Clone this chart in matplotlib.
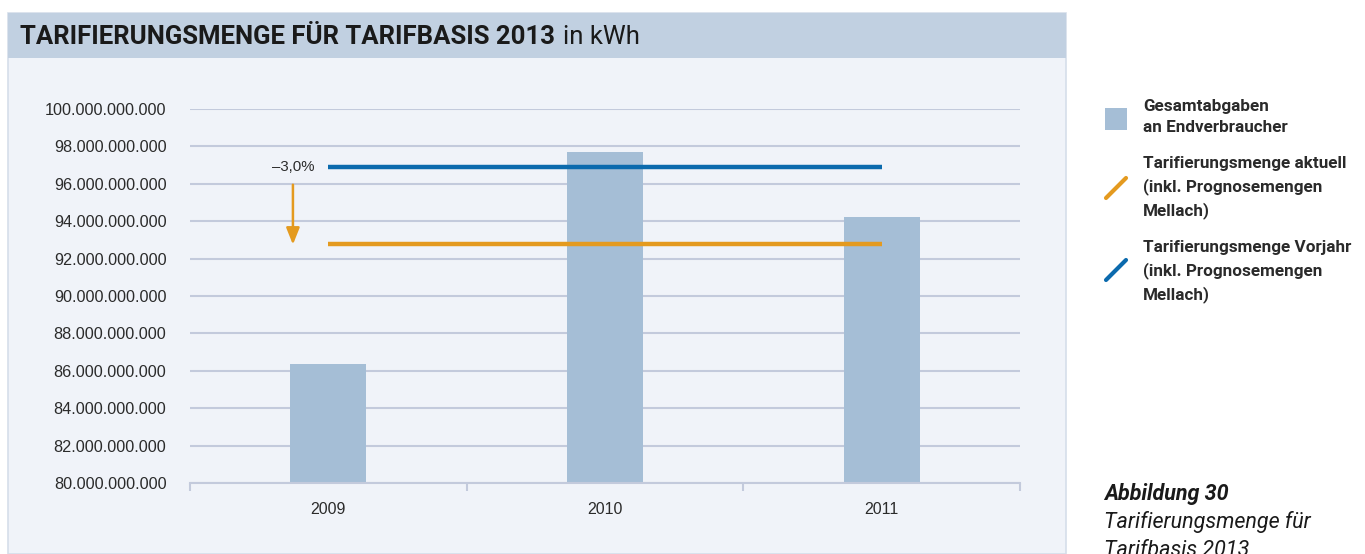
import numpy as np
import matplotlib.pyplot as plt
from matplotlib.patches import Rectangle
from matplotlib.lines import Line2D
from matplotlib.ticker import FuncFormatter

# ---------------- Daten ----------------
jahre = ['2009', '2010', '2011']
gesamtabgaben = [86.36e9, 97.70e9, 94.20e9]   # kWh
menge_vorjahr = 96.90e9                       # blaue Linie
menge_aktuell = 92.80e9                       # orange Linie
aenderung_text = '\u20133,0%'

c_bar = '#a5bed6'
c_blue = '#0b6aad'
c_orange = '#e49a1f'
c_grid = '#c3cadc'
c_panel = '#f0f3f9'
c_head = '#c1d0e1'
c_text = '#2b2b2b'

plt.rcParams['font.family'] = ['Liberation Sans', 'DejaVu Sans']
bold_fam = ['Roboto', 'DejaVu Sans']

W, H = 1365, 554
fig = plt.figure(figsize=(W / 100, H / 100), dpi=100)
fig.patch.set_facecolor('white')

# Panel + Kopfzeile (hinter den Achsen)
fig.patches.append(Rectangle((8 / W, 0), (1066 - 8) / W, 1 - 13 / H,
                             transform=fig.transFigure, facecolor=c_panel,
                             edgecolor='#d5deea', linewidth=1.2, zorder=-3))
fig.patches.append(Rectangle((8 / W, 1 - 58 / H), (1066 - 8) / W, 45 / H,
                             transform=fig.transFigure, facecolor=c_head,
                             edgecolor='none', zorder=-2))
t1 = fig.text(20 / W, 1 - 37 / H, 'TARIFIERUNGSMENGE FÜR TARIFBASIS 2013',
              fontsize=18.5, fontweight='bold', color='#1a1a1a', va='center',
              family=bold_fam)
fig.canvas.draw()
bb = t1.get_window_extent()
fig.text((bb.x1 + 8) / W, 1 - 37 / H, 'in kWh', fontsize=18.5,
         color='#1a1a1a', va='center', family=bold_fam)

ax = fig.add_axes([190 / W, 1 - 483 / H, (1020 - 190) / W, (483 - 109) / H])
ax.set_facecolor('none')

x = np.arange(len(jahre))
ax.bar(x, gesamtabgaben, width=0.275, color=c_bar, zorder=2)
ax.plot([0, 2], [menge_vorjahr, menge_vorjahr], color=c_blue, lw=3.2,
        solid_capstyle='butt', zorder=3)
ax.plot([0, 2], [menge_aktuell, menge_aktuell], color=c_orange, lw=3.2,
        solid_capstyle='butt', zorder=3)

# Pfeil und Beschriftung
ax.annotate('', xy=(-0.128, menge_aktuell - 0.05e9), xytext=(-0.128, 95.95e9),
            arrowprops=dict(arrowstyle='-|>,head_length=1.0,head_width=0.4',
                            color=c_orange, lw=1.8, shrinkA=0, shrinkB=0))
ax.text(-0.05, menge_vorjahr, aenderung_text, ha='right', va='center',
        fontsize=10.8, color=c_text)

ax.set_xlim(-0.5, 2.5)
ax.set_ylim(80e9, 100e9)
ax.set_yticks(np.arange(80e9, 100.1e9, 2e9))
ax.yaxis.set_major_formatter(FuncFormatter(
    lambda v, p: f'{v:,.0f}'.replace(',', '.')))
ax.grid(axis='y', color=c_grid, lw=1.5, zorder=1)
ax.set_axisbelow(True)

ax.set_xticks(x)
ax.set_xticklabels(jahre)
ax.set_xticks([-0.5, 0.5, 1.5, 2.5], minor=True)
ax.tick_params(axis='x', which='major', length=0, pad=14, labelsize=11.5,
               labelcolor=c_text)
ax.tick_params(axis='x', which='minor', length=6, width=1.5, color=c_grid)
ax.tick_params(axis='y', length=0, pad=17, labelsize=11.7, labelcolor=c_text)
for s in ['top', 'right', 'left']:
    ax.spines[s].set_visible(False)
ax.spines['bottom'].set_color(c_grid)
ax.spines['bottom'].set_linewidth(1.5)

# Legende rechts
lx = 1105 / W
fig.patches.append(Rectangle((lx, 1 - 130 / H), 22 / W, 22 / H,
                             transform=fig.transFigure, facecolor=c_bar,
                             edgecolor='none'))
for y0, col in [(198, c_orange), (280, c_blue)]:
    fig.lines.append(Line2D([lx + 1 / W, lx + 21 / W],
                            [1 - y0 / H, 1 - (y0 - 20) / H],
                            transform=fig.transFigure, color=col, lw=3,
                            solid_capstyle='round'))
leg_font = dict(fontsize=12.3, fontweight='bold', color='#2a2a2a',
                family=bold_fam, va='top', linespacing=1.52)
fig.text(1143 / W, 1 - 99 / H, 'Gesamtabgaben\nan Endverbraucher', **leg_font)
fig.text(1143 / W, 1 - 156 / H,
         'Tarifierungsmenge aktuell\n(inkl. Prognosemengen\nMellach)', **leg_font)
fig.text(1143 / W, 1 - 240 / H,
         'Tarifierungsmenge Vorjahr\n(inkl. Prognosemengen\nMellach)', **leg_font)

fig.text(1104 / W, 1 - 494 / H, 'Abbildung 30', fontsize=15.5,
         fontweight='bold', style='italic', color='#1a1a1a', va='center',
         family=bold_fam)
fig.text(1104 / W, 1 - 522 / H, 'Tarifierungsmenge für', fontsize=15.5,
         style='italic', color='#1a1a1a', va='center', family=bold_fam)
fig.text(1104 / W, 1 - 550 / H, 'Tarifbasis 2013', fontsize=15.5,
         style='italic', color='#1a1a1a', va='center', family=bold_fam)

fig.savefig('out.png', dpi=100)
